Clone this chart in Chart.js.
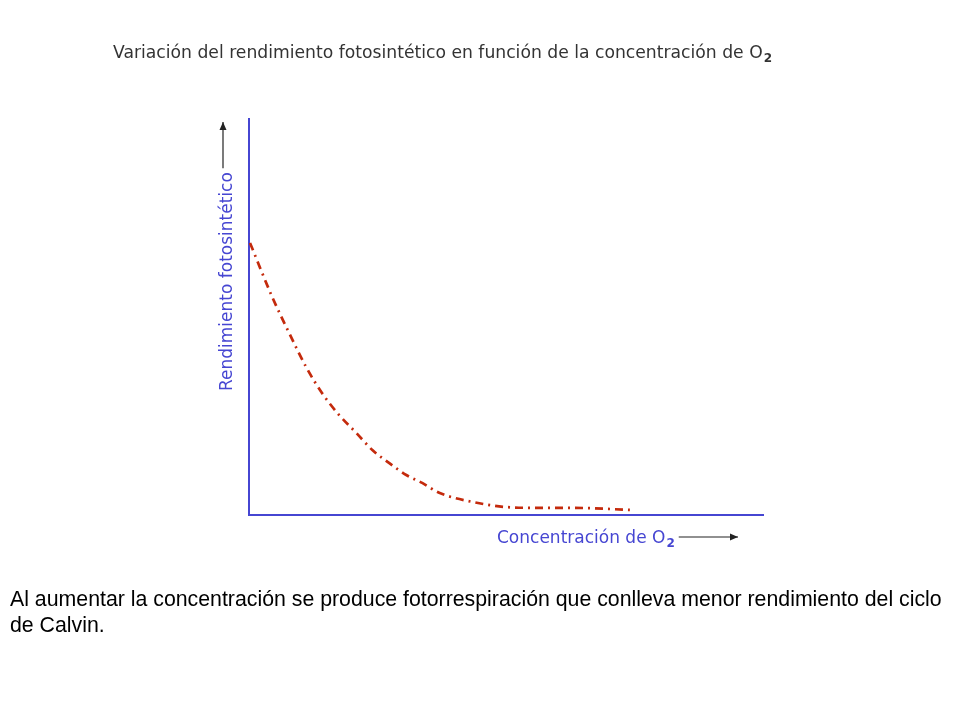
<!DOCTYPE html>
<html>
<head>
<meta charset="utf-8">
<script src="https://cdn.jsdelivr.net/npm/chart.js@4.4.1/dist/chart.umd.min.js"></script>
<style>
  body { margin: 0; background: #fff; }
  #wrap { position: relative; width: 960px; height: 720px; }
  #note {
    position: absolute; left: 10px; top: 586px; width: 950px;
    font: 21.3px "Liberation Sans", Arial, sans-serif; line-height: 26px; color: #000;
    white-space: nowrap;
  }
</style>
</head>
<body>
<div id="wrap">
  <canvas id="chart" width="960" height="720"></canvas>
  <div id="note">Al aumentar la concentración se produce fotorrespiración que conlleva menor rendimiento del ciclo<br>de Calvin.</div>
</div>
<script>
// O2 concentration (arbitrary units, 0-100) and photosynthetic yield (0-100)
let o2Conc = [0.2, 4.5, 7.8, 11.1, 14.2, 17.5, 20.9, 24.0, 27.3, 30.6, 33.7, 37.0, 43.5, 50.1, 56.5, 63.0, 74.1];
let rendimiento = [68.7, 55.1, 46.0, 37.4, 30.8, 25.3, 20.7, 16.4, 13.1, 10.1, 8.1, 5.6, 3.3, 2.0, 1.8, 1.8, 1.3];

let titleText = "Variación del rendimiento fotosintético en función de la concentración de O";
let yLabel = "Rendimiento fotosintético";
let xLabel = "Concentración de O";

let blue = "#4646d2";

let arrow = (ctx, x1, y1, x2, y2) => {
    ctx.save();
    ctx.strokeStyle = "#222";
    ctx.fillStyle = "#222";
    ctx.lineWidth = 1.2;
    ctx.beginPath();
    ctx.moveTo(x1, y1);
    ctx.lineTo(x2, y2);
    ctx.stroke();
    let a = Math.atan2(y2 - y1, x2 - x1);
    ctx.beginPath();
    ctx.moveTo(x2, y2);
    ctx.lineTo(x2 - 8 * Math.cos(a) + 3.5 * Math.sin(a), y2 - 8 * Math.sin(a) - 3.5 * Math.cos(a));
    ctx.lineTo(x2 - 8 * Math.cos(a) - 3.5 * Math.sin(a), y2 - 8 * Math.sin(a) + 3.5 * Math.cos(a));
    ctx.closePath();
    ctx.fill();
    ctx.restore();
};

// text with a subscript "2" after it, returns end x
let withSub = (ctx, text, x, y, size, color) => {
    ctx.fillStyle = color;
    ctx.font = size + "px 'DejaVu Sans'";
    ctx.fillText(text, x, y);
    let w = ctx.measureText(text).width;
    ctx.font = "bold " + Math.round(size * 0.7) + "px 'DejaVu Sans'";
    ctx.fillText("2", x + w + 1, y + 4);
    return x + w + 1 + ctx.measureText("2").width;
};

let labels = {
    id: "labels",
    afterDraw(chart) {
        let ctx = chart.ctx;
        let area = chart.chartArea;
        ctx.save();
        ctx.textBaseline = "alphabetic";
        withSub(ctx, titleText, 113, 58, 17.2, "#333");

        // y label, rotated
        ctx.save();
        ctx.translate(232, 391);
        ctx.rotate(-Math.PI / 2);
        ctx.fillStyle = blue;
        ctx.font = "17px 'DejaVu Sans'";
        ctx.fillText(yLabel, 0, 0);
        let w = ctx.measureText(yLabel).width;
        ctx.restore();
        arrow(ctx, 223, 391 - w - 4, 223, area.top + 3);

        let end = withSub(ctx, xLabel, 497, 543, 17, blue);
        arrow(ctx, end + 4, 537, 738, 537);
        ctx.restore();
    }
};

let ctx = document.getElementById("chart");
let myChart = new Chart(ctx, {
    type: "line",
    data: {
        datasets: [{
            data: o2Conc.map((x, i) => ({ x: x, y: rendimiento[i] })),
            borderColor: "#c42a0c",
            borderWidth: 2.7,
            borderDash: [8, 5, 2, 5],
            pointRadius: 0,
            fill: false,
            cubicInterpolationMode: "monotone"
        }]
    },
    options: {
        responsive: false,
        animation: false,
        devicePixelRatio: 1,
        layout: { padding: { left: 249, right: 197, top: 119, bottom: 205 } },
        plugins: { legend: { display: false }, tooltip: { enabled: false } },
        scales: {
            x: {
                type: "linear", min: 0, max: 100,
                grid: { display: false, drawTicks: false },
                ticks: { display: false },
                border: { display: true, color: blue, width: 2 }
            },
            y: {
                type: "linear", min: 0, max: 100,
                grid: { display: false, drawTicks: false },
                ticks: { display: false },
                border: { display: true, color: blue, width: 2 }
            }
        }
    },
    plugins: [labels]
});
</script>
</body>
</html>
